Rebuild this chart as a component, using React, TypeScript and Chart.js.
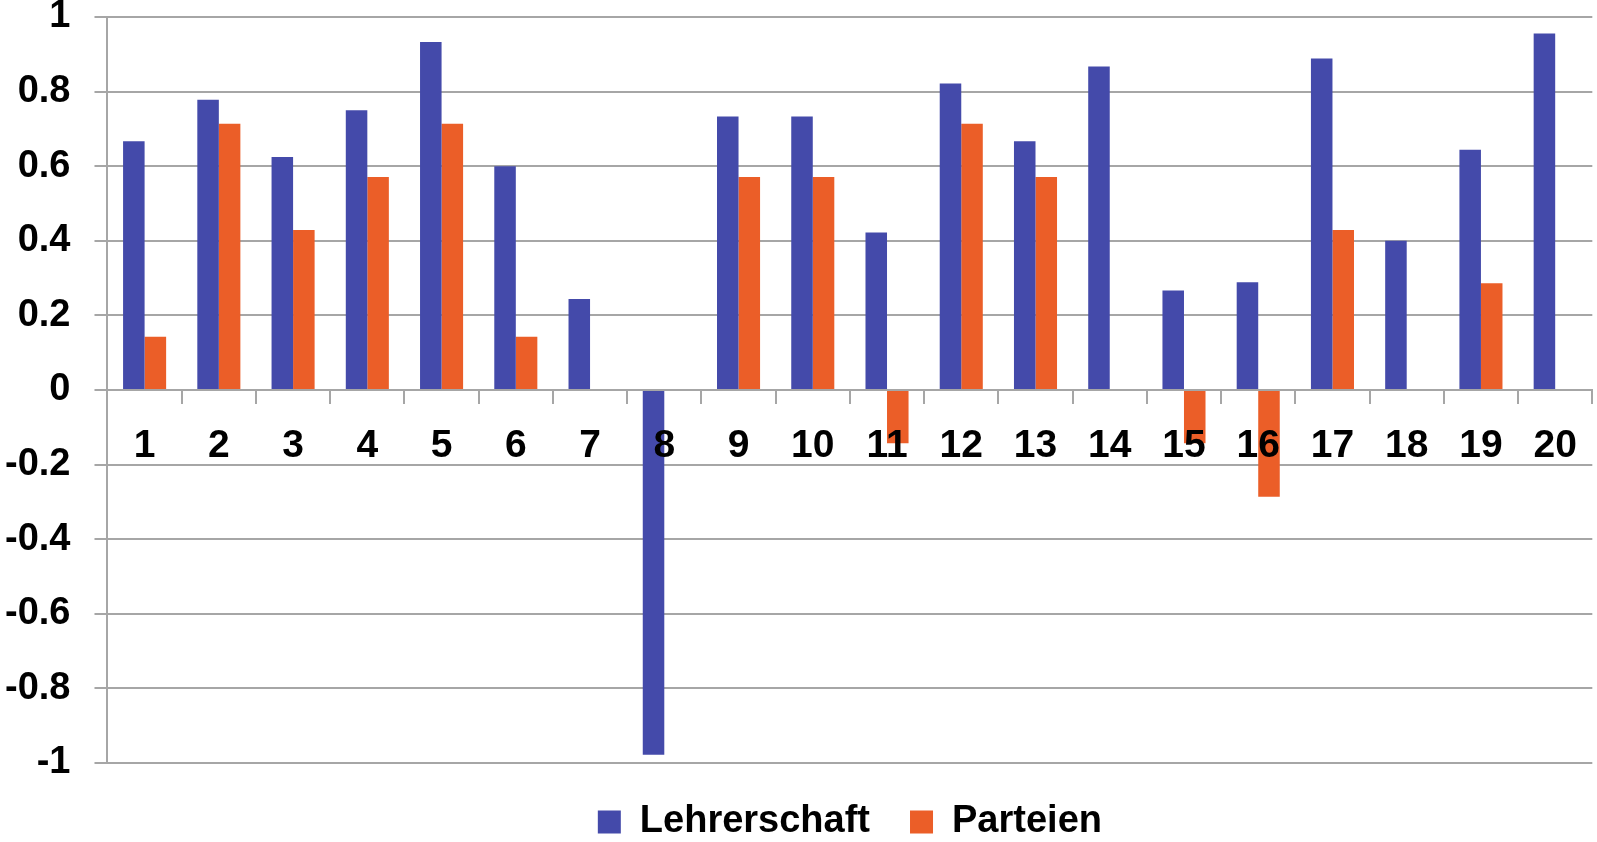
import React, { useEffect, useRef } from 'react';
import { Chart, registerables } from 'chart.js';

Chart.register(...registerables);

const categories = ['1', '2', '3', '4', '5', '6', '7', '8', '9', '10', '11', '12', '13', '14', '15', '16', '17', '18', '19', '20'];
const lehrerschaft = [0.667, 0.778, 0.625, 0.75, 0.933, 0.6, 0.244, -0.978, 0.733, 0.733, 0.422, 0.822, 0.667, 0.867, 0.267, 0.289, 0.889, 0.4, 0.644, 0.956];
const parteien = [0.143, 0.714, 0.429, 0.571, 0.714, 0.143, 0, 0, 0.571, 0.571, -0.143, 0.714, 0.571, 0, -0.143, -0.286, 0.429, 0, 0.286, 0];
const seriesNames = ['Lehrerschaft', 'Parteien'];
const yMin = -1;
const yMax = 1;
const yStep = 0.2;

const FONT = "'Liberation Sans', Arial, sans-serif";
const GRID = '#a6a6a6';

export default function App() {
  const ref = useRef<HTMLCanvasElement | null>(null);

  useEffect(() => {
    document.body.style.margin = '0';
    if (!ref.current) return;
    const chart = new Chart(ref.current, {
      type: 'bar',
      data: {
        labels: categories,
        datasets: [
          {
            label: seriesNames[0],
            data: lehrerschaft,
            backgroundColor: '#444aaa',
            borderWidth: 0,
            categoryPercentage: 0.58,
            barPercentage: 1,
          },
          {
            label: seriesNames[1],
            data: parteien,
            backgroundColor: '#eb5e28',
            borderWidth: 0,
            categoryPercentage: 0.58,
            barPercentage: 1,
          },
        ],
      },
      options: {
        animation: false,
        responsive: false,
        maintainAspectRatio: false,
        layout: { padding: { left: -19, right: 3, top: 0, bottom: -9 } },
        plugins: {
          tooltip: { enabled: false },
          title: { display: false },
          legend: {
            position: 'bottom',
            fullSize: false,
            labels: {
              boxWidth: 23,
              boxHeight: 23,
              padding: 40,
              color: '#000',
              font: { family: FONT, size: 38, weight: 'bold' },
            },
          },
        },
        scales: {
          x: {
            position: { y: 0 },
            afterFit: (scale: any) => {
              scale.height = 0;
            },
            grid: {
              display: true,
              drawOnChartArea: false,
              drawTicks: true,
              tickLength: 13,
              color: GRID,
              lineWidth: 2,
              offset: true,
              z: 1,
            },
            border: { display: true, color: GRID, width: 2, z: 1 },
            ticks: {
              z: 2,
              color: '#000',
              padding: 20,
              font: { family: FONT, size: 39, weight: 'bold' },
              maxRotation: 0,
              autoSkip: false,
            },
          },
          y: {
            min: yMin,
            max: yMax,
            afterFit: (scale: any) => {
              scale.paddingTop = 17;
              scale.paddingBottom = 0;
            },
            ticks: {
              stepSize: yStep,
              color: '#000',
              padding: 24,
              font: { family: FONT, size: 38, weight: 'bold' },
              callback: (v: any) => String(Number(Number(v).toFixed(1))),
            },
            grid: {
              color: GRID,
              lineWidth: 2,
              tickLength: 13,
              drawTicks: true,
            },
            border: { display: true, color: GRID, width: 2 },
          },
        },
      },
    });
    return () => chart.destroy();
  }, []);

  return (
    <div style={{ width: 1597, height: 842 }}>
      <canvas ref={ref} width={1597} height={842} style={{ display: 'block' }} />
    </div>
  );
}
